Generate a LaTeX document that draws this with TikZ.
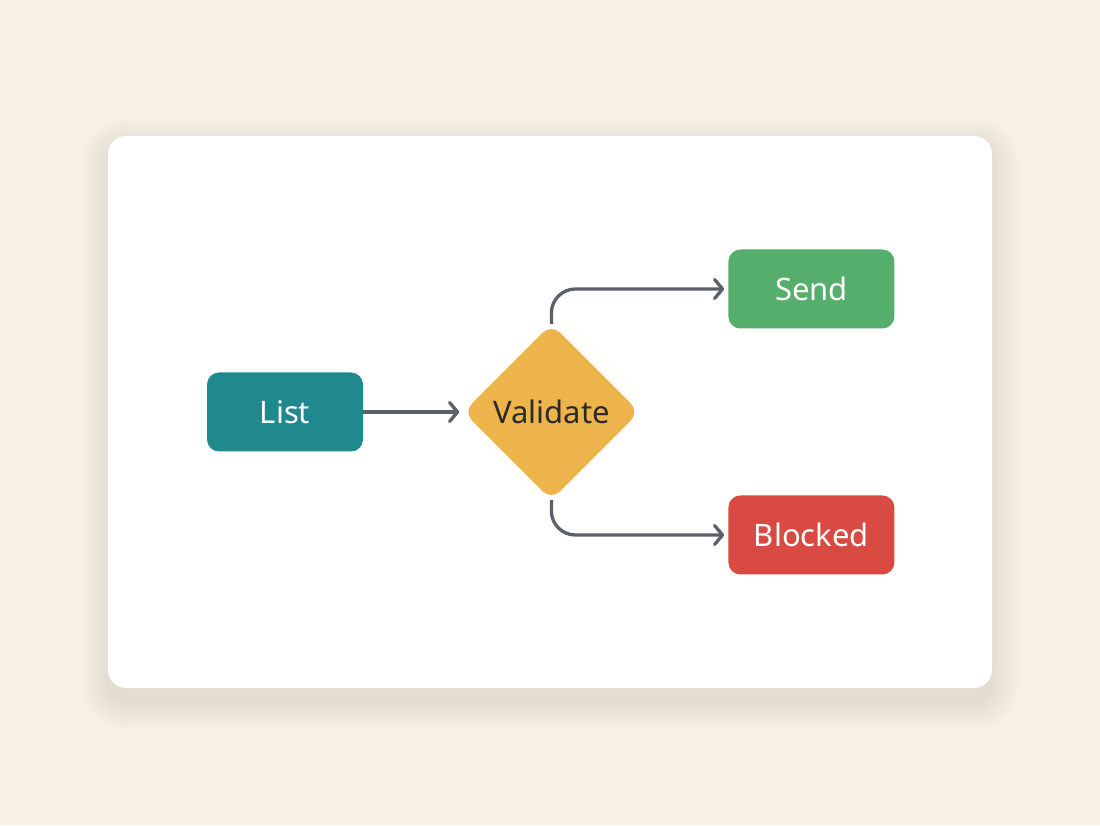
\documentclass[tikz,border=0pt]{standalone}
\usepackage{fontspec}
\setmainfont{Noto Sans}
\usepackage{xcolor}
\usetikzlibrary{shapes.geometric, arrows.meta, positioning}

\definecolor{bgcream}{HTML}{F7F0E4}
\definecolor{listteal}{HTML}{1F898D}
\definecolor{validyellow}{HTML}{EDB44B}
\definecolor{sendgreen}{HTML}{55AE6B}
\definecolor{blockred}{HTML}{D94A43}
\definecolor{arrowgray}{HTML}{5C6169}
\definecolor{textdark}{HTML}{2A2A2A}

\begin{document}
\begin{tikzpicture}[x=1pt, y=1pt, node distance=100pt]
	% Styles
	\tikzstyle{box} = [rectangle, minimum height=79pt, minimum width=156pt, rounded corners=12pt, align=center, text=white, font=\fontsize{31}{36}\selectfont]
	\tikzstyle{decision} = [diamond, fill=validyellow, minimum width=176pt, minimum height=176pt, inner sep=0pt, rounded corners=12pt, text=textdark, font=\fontsize{31}{36}\selectfont]
	\tikzstyle{arrow} = [line width=3.3pt, draw=arrowgray, -{Straight Barb[length=8pt, width=19pt, line cap=round, line join=round]}, shorten >=4pt]

	% Background and card
	\useasboundingbox (0,0) rectangle (1100,825);
	\fill[bgcream] (0,0) rectangle (1100,825);
	\foreach \s [evaluate=\s as \r using 18+\s] in {0,3,...,27}
		\fill[black, opacity=0.007, rounded corners=\r pt] (108-\s,122-\s) rectangle (992+\s,680+\s);
	\fill[white, rounded corners=18pt] (108,137) rectangle (992,689);

	% Nodes
	\node (list) [box, fill=listteal] at (285,413) {List};
	\node (validate) [decision, right=of list] {Validate};
	\node (send) [box, fill=sendgreen, minimum width=166pt] at ([xshift=260pt, yshift=123pt]validate.center) {Send};
	\node (blocked) [box, fill=blockred, minimum width=166pt] at ([xshift=260pt, yshift=-123pt]validate.center) {Blocked};

	% Connections
	\draw [arrow] (list) -- (validate);
	\draw [arrow, rounded corners=24pt] (validate.north) |- (send.west);
	\draw [arrow, rounded corners=24pt] (validate.south) |- (blocked.west);

\end{tikzpicture}
\end{document}
